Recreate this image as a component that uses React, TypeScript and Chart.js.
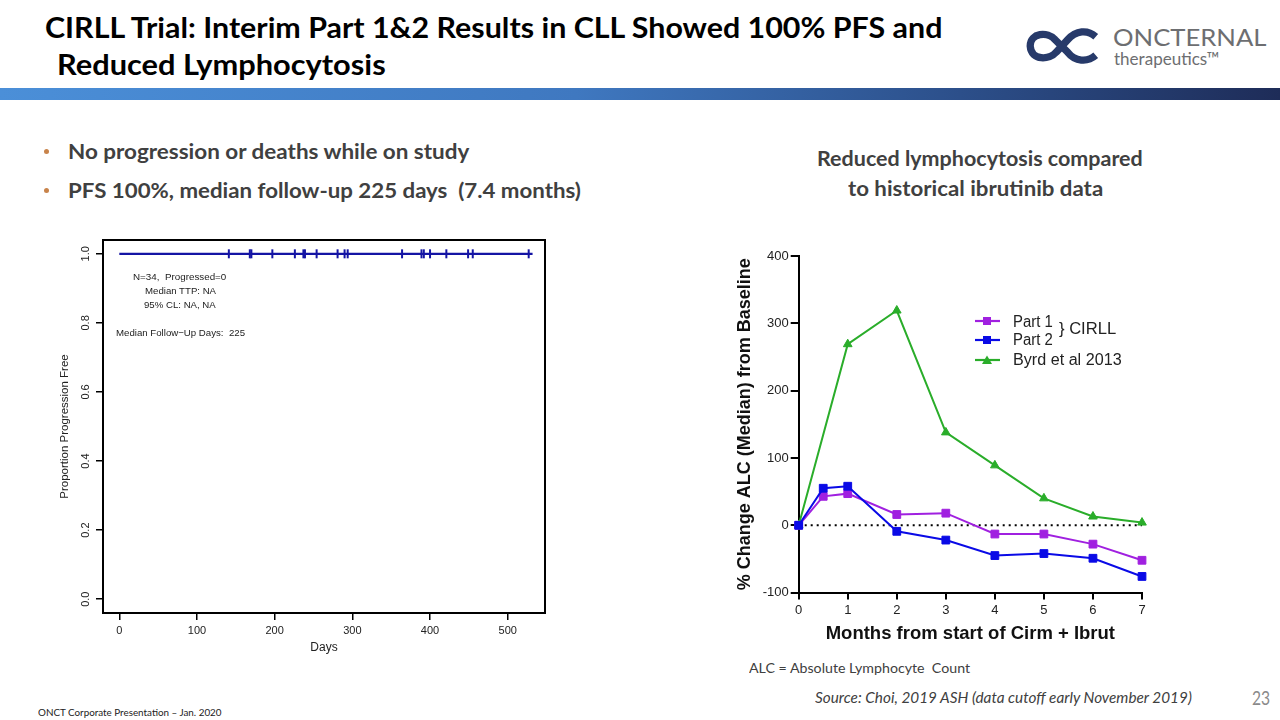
import React, { useEffect, useLayoutEffect, useRef } from 'react';
import { Chart, registerables } from 'chart.js';

Chart.register(...registerables);

const LATO = "Lato, 'Open Sans', sans-serif";
const ARIAL = "'Liberation Sans', Arial, sans-serif";

// ---------- Left chart (Kaplan-Meier, progression free) ----------
const KM_DAYS = [0, 532];
const KM_PROPORTION = [1, 1];
const CENSOR_DAYS = [141, 168, 170, 197, 226, 237, 239, 254, 281, 290, 294, 364, 389, 392, 400, 421, 449, 455, 527];
const KM_X_TICKS = [0, 100, 200, 300, 400, 500];
const KM_Y_TICKS = [0, 0.2, 0.4, 0.6, 0.8, 1.0];

// ---------- Right chart (% change ALC) ----------
const CIRLL_MONTHS = [0, 0.5, 1, 2, 3, 4, 5, 6, 7];
const PART1 = [0, 43, 47, 16, 18, -13, -13, -28, -52];
const PART2 = [0, 55, 58, -9, -22, -45, -42, -49, -76];
const BYRD_MONTHS = [0, 1, 2, 3, 4, 5, 6, 7];
const BYRD = [0, 269, 319, 138, 89, 40, 13, 4];
const ZERO_LINE_MONTHS = [0, 7];
const ZERO_LINE = [0, 0];

const KM_BLUE = '#1414a4';
const PURPLE = '#a020e0';
const BLUE = '#0a0ae6';
const GREEN = '#2aad2a';

type FitProps = {
  x: number; cy: number; w: number; size: number; text: string;
  weight?: number; color?: string; family?: string; italic?: boolean; capRatio?: number;
};

function FitText({ x, cy, w, size, text, weight = 400, color = '#404040', family = LATO, italic = false, capRatio = 0.63 }: FitProps) {
  const ref = useRef<HTMLSpanElement>(null);
  useLayoutEffect(() => {
    const el = ref.current;
    if (!el) return;
    const fit = () => {
      el.style.transform = 'none';
      const actual = el.offsetWidth;
      if (actual > 0) el.style.transform = `scaleX(${w / actual})`;
    };
    fit();
    const f: any = (document as any).fonts;
    if (f && f.ready) f.ready.then(fit);
  }, [w, text, size]);
  return (
    <span
      ref={ref}
      style={{
        position: 'absolute', left: x, top: cy - capRatio * size, fontFamily: family, fontSize: size,
        fontWeight: weight, fontStyle: italic ? 'italic' : 'normal', color, lineHeight: 1.2,
        whiteSpace: 'pre', transformOrigin: '0 0',
      }}
    >
      {text}
    </span>
  );
}

function KMChart() {
  const ref = useRef<HTMLCanvasElement>(null);
  useEffect(() => {
    const canvas = ref.current!;
    const boxPlugin = {
      id: 'rbox',
      afterDatasetsDraw(chart: any) {
        const { ctx, chartArea: a } = chart;
        ctx.save();
        ctx.strokeStyle = '#000';
        ctx.lineWidth = 2;
        ctx.strokeRect(a.left, a.top, a.right - a.left, a.bottom - a.top);
        ctx.restore();
      },
    };
    const chart = new Chart(canvas, {
      type: 'line',
      data: {
        datasets: [
          {
            label: 'KM',
            data: KM_DAYS.map((d, i) => ({ x: d, y: KM_PROPORTION[i] })),
            borderColor: KM_BLUE, borderWidth: 2.2, pointRadius: 0, tension: 0, clip: false as any,
          },
          {
            label: 'Censored',
            data: CENSOR_DAYS.map((d) => ({ x: d, y: 1 })),
            showLine: false, pointStyle: 'line', pointRotation: 90, pointRadius: 4.5,
            pointBorderWidth: 2, pointBorderColor: KM_BLUE, borderColor: KM_BLUE,
            backgroundColor: KM_BLUE, clip: false as any,
          },
        ],
      },
      options: {
        responsive: false, animation: false, events: [],
        layout: { padding: { top: 10, right: 15, bottom: 0, left: 0 } },
        plugins: { legend: { display: false }, tooltip: { enabled: false } },
        scales: {
          x: {
            type: 'linear', min: -21, max: 548,
            afterBuildTicks: (s: any) => { s.ticks = KM_X_TICKS.map((v) => ({ value: v })); },
            afterFit: (s: any) => { s.height = 42; },
            grid: { drawOnChartArea: false, drawTicks: true, tickLength: 7, color: '#000', lineWidth: 1.5 },
            border: { display: false },
            ticks: { font: { family: ARIAL, size: 11 }, color: '#222', padding: 4, maxRotation: 0, autoSkip: false },
            title: { display: true, text: 'Days', font: { family: ARIAL, size: 12 }, color: '#222', padding: { top: 0, bottom: 0 } },
          },
          y: {
            type: 'linear', min: -0.04, max: 1.04,
            afterBuildTicks: (s: any) => { s.ticks = KM_Y_TICKS.map((v) => ({ value: v })); },
            afterFit: (s: any) => { s.width = 53; },
            grid: { drawOnChartArea: false, drawTicks: true, tickLength: 7, color: '#000', lineWidth: 1.5 },
            border: { display: false },
            ticks: {
              font: { family: ARIAL, size: 11 }, color: '#222', padding: 2, minRotation: 90, maxRotation: 90,
              crossAlign: 'center', autoSkip: false, callback: (v: any) => Number(v).toFixed(1),
            },
            title: {
              display: true, text: 'Proportion Progression Free', font: { family: ARIAL, size: 11.5 },
              color: '#222', padding: { top: 8, bottom: 0 },
            },
          },
        },
      } as any,
      plugins: [boxPlugin],
    });
    return () => chart.destroy();
  }, []);
  return (
    <canvas
      ref={ref}
      width={510}
      height={425}
      style={{ position: 'absolute', left: 50, top: 230, width: 510, height: 425 }}
    />
  );
}

function ALCChart() {
  const ref = useRef<HTMLCanvasElement>(null);
  useEffect(() => {
    const canvas = ref.current!;
    const chart = new Chart(canvas, {
      type: 'line',
      data: {
        datasets: [
          {
            label: 'Part 1', order: 1,
            data: CIRLL_MONTHS.map((m, i) => ({ x: m, y: PART1[i] })),
            borderColor: PURPLE, backgroundColor: PURPLE, borderWidth: 2, tension: 0,
            pointStyle: 'rect', pointRadius: 5.5, pointBorderWidth: 1, clip: false as any,
          },
          {
            label: 'Part 2', order: 0,
            data: CIRLL_MONTHS.map((m, i) => ({ x: m, y: PART2[i] })),
            borderColor: BLUE, backgroundColor: BLUE, borderWidth: 2, tension: 0,
            pointStyle: 'rect', pointRadius: 5.5, pointBorderWidth: 1, clip: false as any,
          },
          {
            label: 'Byrd et al 2013', order: 2,
            data: BYRD_MONTHS.map((m, i) => ({ x: m, y: BYRD[i] })),
            borderColor: GREEN, backgroundColor: GREEN, borderWidth: 2, tension: 0,
            pointStyle: 'triangle', pointRadius: 5, pointBorderWidth: 1, clip: false as any,
          },
          {
            label: 'zero', order: 3,
            data: ZERO_LINE_MONTHS.map((m, i) => ({ x: m, y: ZERO_LINE[i] })),
            borderColor: '#000', borderWidth: 2, borderDash: [2, 4], pointRadius: 0, clip: false as any,
          },
        ],
      },
      options: {
        responsive: false, animation: false, events: [],
        layout: { padding: { top: 16, right: 18, bottom: 0, left: 0 } },
        plugins: { legend: { display: false }, tooltip: { enabled: false } },
        scales: {
          x: {
            type: 'linear', min: 0, max: 7,
            afterFit: (s: any) => { s.height = 52.4; },
            grid: { drawOnChartArea: false, drawTicks: true, tickLength: 7, color: '#000', lineWidth: 2 },
            border: { display: true, color: '#000', width: 2 },
            ticks: { stepSize: 1, font: { family: ARIAL, size: 13 }, color: '#222', padding: 3, maxRotation: 0, autoSkip: false },
            title: {
              display: true, text: 'Months from start of Cirm + Ibrut',
              font: { family: ARIAL, size: 18.5, weight: 'bold' }, color: '#111', padding: { top: 0, bottom: 0 },
            },
          },
          y: {
            type: 'linear', min: -100, max: 400,
            afterFit: (s: any) => { s.width = 64.7; },
            grid: { drawOnChartArea: false, drawTicks: true, tickLength: 8, color: '#000', lineWidth: 2 },
            border: { display: true, color: '#000', width: 2 },
            ticks: { stepSize: 100, font: { family: ARIAL, size: 13 }, color: '#222', padding: 2 },
            title: {
              display: true, text: '% Change ALC (Median) from Baseline',
              font: { family: ARIAL, size: 18, weight: 'bold' }, color: '#111', padding: { top: 0, bottom: 0 },
            },
          },
        },
      } as any,
    });
    return () => chart.destroy();
  }, []);
  return (
    <canvas
      ref={ref}
      width={426}
      height={405}
      style={{ position: 'absolute', left: 734, top: 240, width: 426, height: 405 }}
    />
  );
}

function LegendMarker({ cy, color, shape }: { cy: number; color: string; shape: 'rect' | 'tri' }) {
  return (
    <svg width={26} height={12} style={{ position: 'absolute', left: 975, top: cy - 6 }}>
      <line x1={0} y1={6} x2={25} y2={6} stroke={color} strokeWidth={2.2} />
      {shape === 'rect' ? (
        <rect x={8} y={2} width={8} height={8} fill={color} />
      ) : (
        <polygon points="12,1.5 17,10 7,10" fill={color} />
      )}
    </svg>
  );
}

export default function App() {
  return (
    <div style={{ position: 'absolute', left: 0, top: 0, width: 1280, height: 720, background: '#fff', overflow: 'hidden' }}>
      {/* Title */}
      <FitText x={45} cy={28} w={897} size={29} weight={700} color="#000" text="CIRLL Trial: Interim Part 1&2 Results in CLL Showed 100% PFS and" />
      <FitText x={57} cy={65} w={329} size={29} weight={700} color="#000" text="Reduced Lymphocytosis" />

      {/* Logo */}
      <svg width={78} height={36} viewBox="0 0 75 34" style={{ position: 'absolute', left: 1025, top: 28 }}>
        <path
          d="M 68 8 C 60 1, 49 2, 41 11 L 30 23 C 24 30, 6 32, 5 17 C 5 4, 22 3, 29 11 L 41 23 C 48 32, 60 33, 68 26"
          fill="none" stroke="#273a6a" strokeWidth={7}
        />
      </svg>
      <FitText x={1113} cy={38} w={154} size={24} weight={400} color="#6d6e71" text="ONCTERNAL" />
      <FitText x={1114} cy={59} w={106} size={18} weight={400} color="#6d6e71" text="therapeutics™" />

      {/* Gradient band */}
      <div style={{
        position: 'absolute', left: 0, top: 88, width: 1280, height: 12,
        background: 'linear-gradient(to right, #4b8fd8 0%, #3f78c0 45%, #2c4f8a 75%, #1e2c58 100%)',
      }} />

      {/* Bullets */}
      <div style={{ position: 'absolute', left: 43.5, top: 148.5, width: 5, height: 5, borderRadius: '50%', background: '#c8834a' }} />
      <div style={{ position: 'absolute', left: 43.5, top: 187.5, width: 5, height: 5, borderRadius: '50%', background: '#c8834a' }} />
      <FitText x={68} cy={151} w={401} size={21} weight={700} color="#404040" text="No progression or deaths while on study" />
      <FitText x={68} cy={190} w={513} size={21} weight={700} color="#404040" text="PFS 100%, median follow-up 225 days  (7.4 months)" />

      {/* Right heading */}
      <FitText x={817} cy={159} w={326} size={20.5} weight={700} color="#404040" text="Reduced lymphocytosis compared" />
      <FitText x={848} cy={189} w={255} size={20.5} weight={700} color="#404040" text="to historical ibrutinib data" />

      {/* Left chart */}
      <KMChart />
      <FitText x={133} cy={277} w={93} size={9.5} family={ARIAL} capRatio={0.588} color="#222" text="N=34,  Progressed=0" />
      <FitText x={145} cy={291} w={71} size={9.5} family={ARIAL} capRatio={0.588} color="#222" text="Median TTP: NA" />
      <FitText x={144} cy={305} w={72} size={9.5} family={ARIAL} capRatio={0.588} color="#222" text="95% CL: NA, NA" />
      <FitText x={116} cy={333} w={129} size={9.5} family={ARIAL} capRatio={0.588} color="#222" text="Median Follow−Up Days:  225" />

      {/* Right chart */}
      <ALCChart />
      <LegendMarker cy={321.3} color={PURPLE} shape="rect" />
      <LegendMarker cy={339.7} color={BLUE} shape="rect" />
      <LegendMarker cy={359.7} color={GREEN} shape="tri" />
      <FitText x={1013} cy={321.3} w={40} size={16} family={ARIAL} capRatio={0.588} color="#222" text="Part 1" />
      <FitText x={1013} cy={339.7} w={40} size={16} family={ARIAL} capRatio={0.588} color="#222" text="Part 2" />
      <FitText x={1013} cy={359.7} w={109} size={16} family={ARIAL} capRatio={0.588} color="#222" text="Byrd et al 2013" />
      <FitText x={1059} cy={328.7} w={57} size={16} family={ARIAL} capRatio={0.588} color="#222" text="} CIRLL" />

      {/* Footnotes */}
      <FitText x={749} cy={669} w={221} size={14} color="#404040" text="ALC = Absolute Lymphocyte  Count" />
      <FitText x={815} cy={698} w={377} size={14.5} italic color="#404040" text="Source: Choi, 2019 ASH (data cutoff early November 2019)" />
      <FitText x={1252} cy={698} w={18} size={20} color="#8a8a8a" text="23" />
      <FitText x={38} cy={712} w={184} size={10} color="#222" text="ONCT Corporate Presentation – Jan. 2020" />
    </div>
  );
}
